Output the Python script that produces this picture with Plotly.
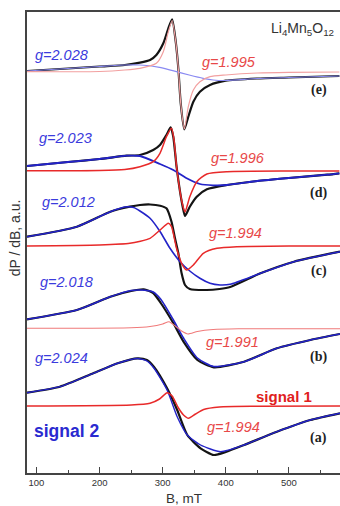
import plotly.graph_objects as go

# ---- data (B in mT, intensity in a.u. with vertical offsets) ----
# (e)
e_blk_B = [85, 150, 200, 240, 264, 280, 290, 301, 309, 315, 321, 325, 328.6, 334.3, 340.6, 348.6, 359, 375, 400, 450, 500, 580]
e_blk_y = [402, 404.5, 406.5, 408, 410.3, 413, 418, 429.7, 444.7, 453.7, 429.7, 403, 369.7, 343.7, 356.3, 371.3, 381.3, 388, 392.3, 394.5, 395.5, 397]
e_red_B = [85, 200, 240, 264, 290, 301, 309, 315, 321, 325, 328.6, 334.3, 340.6, 348.6, 359, 375, 400, 450, 500, 580]
e_red_y = [401.3, 401.5, 403, 404.7, 409.7, 421.3, 441.3, 452.5, 429.7, 403, 369.7, 344, 366.3, 383, 391.3, 396.3, 398, 400, 400.7, 401]
e_blu_B = [85, 150, 200, 240, 264, 295, 316, 342, 364, 380, 400, 450, 500, 580]
e_blu_y = [402, 404.5, 406.5, 408, 408, 405.7, 402.3, 398, 394.7, 393, 392.5, 394.5, 395.5, 397]
# (d)
d_blk_B = [85, 150, 200, 243, 264, 285, 295.7, 306, 312.7, 316.8, 322, 327.5, 331.7, 335.4, 343, 354, 370, 402, 450, 500, 561, 580]
d_blk_y = [307, 311, 314, 317.3, 318, 323, 328, 338, 345.7, 336.3, 306.3, 281.3, 266.3, 257, 266.3, 276.3, 283.7, 288, 292, 295, 298.3, 299.7]
d_red_B = [85, 200, 240, 264, 285, 295.7, 306, 314, 318, 322, 327.5, 331.7, 335.4, 343, 354, 370, 402, 500, 580]
d_red_y = [302.3, 302.5, 303.5, 306.3, 311.3, 319.7, 336.3, 344.7, 333, 306.3, 281.3, 268, 261, 276.3, 291.3, 299, 301.3, 302, 302]
d_blu_B = [85, 150, 200, 243, 264, 295.7, 316.8, 338, 359, 380, 402, 450, 500, 561, 580]
d_blu_y = [307, 311, 314, 317.3, 317, 309, 303, 294.7, 289, 287.7, 288, 292, 295, 298.3, 299.7]
# (c)
c_blk_B = [85, 164, 217, 248, 264, 280, 296, 306, 314, 319.5, 324.8, 330, 335.4, 343, 370, 390, 407, 455, 508, 581]
c_blk_y = [236.3, 246.3, 261.3, 266.3, 268, 268.5, 267.3, 264.7, 251.3, 234.7, 219.7, 199.7, 188, 184, 183, 184, 186, 199.7, 211.3, 221.3]
c_blu_B = [85, 164, 217, 240, 254, 264, 280, 296, 311.6, 327.5, 343, 359, 375, 391, 407, 455, 508, 581]
c_blu_y = [236.3, 246.3, 261.3, 266, 265.5, 262, 254.7, 241.3, 224.7, 211.3, 202, 194.7, 189.7, 188, 188.7, 199.7, 211.3, 221.3]
c_red_B = [85, 200, 248, 280, 296, 309, 314, 322, 330, 338, 348.6, 364.4, 386, 417.5, 500, 581]
c_red_y = [227, 228, 229.7, 234.7, 243, 249.7, 246.3, 224.7, 209.7, 203, 208, 219.7, 224.7, 226.3, 227, 227]
# (b)
b_blk_B = [85, 164, 217, 250, 270, 285, 297, 317, 333, 355, 381, 429, 481, 534, 581]
b_blk_y = [153.7, 163, 176.3, 182, 183.7, 180, 170, 149.7, 131.3, 113, 105.7, 111.3, 124.7, 133, 139]
b_blu_B = [85, 164, 217, 250, 265, 285, 297, 317, 333, 355, 381, 429, 481, 534, 581]
b_blu_y = [153.7, 163, 176.3, 182.5, 183, 181, 173.7, 153, 135, 115, 106.5, 111.3, 124.7, 133, 139]
b_red_B = [85, 250, 280, 300, 310, 320, 330, 340, 355, 380, 420, 581]
b_red_y = [144.7, 145.2, 146.5, 149, 151.3, 147, 142, 139, 141.5, 143.5, 144.3, 144.3]
# (a)
a_blk_B = [85, 137, 190, 230, 260, 275, 286, 307, 323, 339, 360, 381, 400, 429, 481, 534, 581]
a_blk_y = [80.3, 86.3, 99.7, 110, 114.7, 113, 106.3, 84.7, 63, 38, 24.7, 18, 21, 28, 41.3, 53, 59.7]
a_blu_B = [85, 137, 190, 230, 260, 275, 286, 307, 323, 339, 360, 392, 429, 481, 534, 581]
a_blu_y = [80.3, 86.3, 99.7, 110, 114.5, 112, 105, 83, 56.3, 38, 28, 21.3, 28, 41.3, 53, 59.7]
a_red_B = [85, 250, 280, 295, 307, 315, 325, 333, 341, 352, 365, 390, 450, 581]
a_red_y = [67, 68, 69.7, 74, 80.3, 77, 65, 58, 54.7, 59, 63.5, 66, 66.7, 67]

x_ticks = [100, 200, 300, 400, 500]
x_minor = [150, 250, 350, 450, 550]

g_labels = [
    ("g=2.028", 94.6, 418, "#3b3bdd"), ("g=1.995", 359.2, 411, "#e84848"),
    ("g=2.023", 100.5, 335, "#3b3bdd"), ("g=1.996", 373, 315, "#e84848"),
    ("g=2.012", 105.2, 271.5, "#3b3bdd"), ("g=1.994", 370.3, 240, "#e84848"),
    ("g=2.018", 103.2, 191.5, "#3b3bdd"), ("g=1.991", 365, 131.5, "#e84848"),
    ("g=2.024", 95.2, 115, "#3b3bdd"), ("g=1.994", 367.1, 46.5, "#e84848"),
]
panel_labels = [("(e)", 383), ("(d)", 280), ("(c)", 202), ("(b)", 116), ("(a)", 35)]

BLACK = "#141414"
BLUE = "#2323c8"
RED = "#e82a2a"
FONT = "Liberation Sans, Arial"

fig = go.Figure()

def add(x, y, color, width):
    fig.add_trace(go.Scatter(x=x, y=y, mode="lines",
                             line=dict(color=color, width=width, shape="spline", smoothing=0.6),
                             hoverinfo="skip", showlegend=False))

for bx, by in [(e_blk_B, e_blk_y), (d_blk_B, d_blk_y), (c_blk_B, c_blk_y), (b_blk_B, b_blk_y), (a_blk_B, a_blk_y)]:
    add(bx, by, BLACK, 2.2)
add(e_blu_B, e_blu_y, "#8a8af2", 1.2)
add(d_blu_B, d_blu_y, BLUE, 1.8)
add(c_blu_B, c_blu_y, BLUE, 1.6)
add(b_blu_B, b_blu_y, BLUE, 1.6)
add(a_blu_B, a_blu_y, BLUE, 1.4)
add(e_red_B, e_red_y, "#f2a0a0", 1.2)
add(d_red_B, d_red_y, RED, 1.5)
add(c_red_B, c_red_y, RED, 1.5)
add(b_red_B, b_red_y, "#f07a7a", 1.1)
add(a_red_B, a_red_y, RED, 1.5)

ann = []
for t, x, y, c in g_labels:
    ann.append(dict(x=x, y=y, text="<i>" + t + "</i>", xanchor="left", yanchor="middle", showarrow=False,
                    font=dict(family=FONT, size=14.5, color=c)))
for t, y in panel_labels:
    ann.append(dict(x=547, y=y, text="<b>" + t + "</b>", xanchor="center", yanchor="middle", showarrow=False,
                    font=dict(family="Liberation Serif, Times New Roman", size=14, color="#222222")))
ann.append(dict(x=468, y=444, text="Li<sub>4</sub>Mn<sub>5</sub>O<sub>12</sub>", xanchor="left", yanchor="middle",
                showarrow=False, font=dict(family=FONT, size=14, color="#333333")))
ann.append(dict(x=444.4, y=76.3, text="<b>signal 1</b>", xanchor="left", yanchor="middle", showarrow=False,
                font=dict(family=FONT, size=15, color="#e02020")))
ann.append(dict(x=92.5, y=42, text="<b>signal 2</b>", xanchor="left", yanchor="middle", showarrow=False,
                font=dict(family=FONT, size=17.5, color="#2a2ad0")))
ann.append(dict(xref="paper", yref="paper", x=-0.04, y=0.51, text="dP / dB, a.u.", textangle=-90,
                xanchor="center", yanchor="middle", showarrow=False,
                font=dict(family=FONT, size=14, color="#333333")))
ann.append(dict(xref="paper", yref="paper", x=0.5, y=-25.5 / 461, text="B, mT",
                xanchor="center", yanchor="middle", showarrow=False,
                font=dict(family=FONT, size=13.5, color="#333333")))

fig.update_layout(
    width=340, height=506,
    margin=dict(l=27, r=0, t=12, b=33),
    paper_bgcolor="white", plot_bgcolor="white",
    annotations=ann,
    xaxis=dict(range=[85, 581], tickvals=x_ticks, ticktext=[str(v) for v in x_ticks],
               ticks="inside", ticklen=6, tickwidth=1.3, tickcolor="#444444",
               minor=dict(tickvals=x_minor, ticks="inside", ticklen=3, tickwidth=1.2, tickcolor="#444444"),
               showline=True, linecolor="#444444", linewidth=1.5, mirror=True,
               showgrid=False, zeroline=False,
               tickfont=dict(family=FONT, size=9.5, color="#333333")),
    yaxis=dict(range=[0, 461], showticklabels=False, ticks="", showline=True, linecolor="#444444", linewidth=1.5,
               showgrid=False, zeroline=False),
)

fig.write_html("out.html", config={"displayModeBar": False},
               post_script="document.body.style.margin='0';")
